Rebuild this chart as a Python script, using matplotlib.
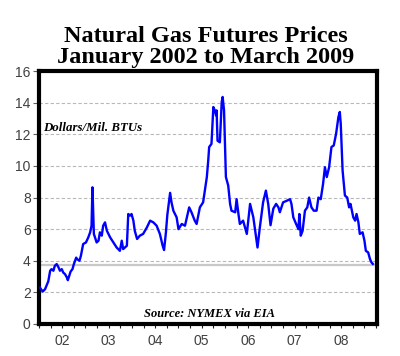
import numpy as np
import matplotlib
matplotlib.use("Agg")
import matplotlib.pyplot as plt
from matplotlib.ticker import FixedLocator

# Weekly-ish natural gas futures prices (decimal year, $/MMBtu)
years = [
    2002.02, 2002.08, 2002.13, 2002.20, 2002.24, 2002.27, 2002.31, 2002.34, 2002.38, 2002.42,
    2002.45, 2002.49, 2002.52, 2002.56, 2002.60, 2002.62, 2002.65, 2002.68, 2002.72, 2002.75,
    2002.80, 2002.82, 2002.87, 2002.90, 2002.95, 2003.01, 2003.06, 2003.10, 2003.13, 2003.15,
    2003.18, 2003.24, 2003.28, 2003.31, 2003.35, 2003.38, 2003.42, 2003.46, 2003.53, 2003.60,
    2003.67, 2003.74, 2003.78, 2003.81, 2003.89, 2003.92, 2003.96, 2003.99, 2004.03, 2004.06,
    2004.11, 2004.17, 2004.24, 2004.32, 2004.39, 2004.46, 2004.53, 2004.60, 2004.66, 2004.69,
    2004.73, 2004.76, 2004.82, 2004.85, 2004.89, 2004.96, 2005.00, 2005.07, 2005.14, 2005.23,
    2005.28, 2005.35, 2005.39, 2005.46, 2005.53, 2005.61, 2005.64, 2005.66, 2005.71, 2005.75,
    2005.78, 2005.81, 2005.82, 2005.84, 2005.89, 2005.93, 2005.95, 2005.98, 2006.02, 2006.07,
    2006.11, 2006.14, 2006.22, 2006.25, 2006.29, 2006.32, 2006.39, 2006.47, 2006.54, 2006.61,
    2006.68, 2006.70, 2006.75, 2006.82, 2006.88, 2006.93, 2006.98, 2007.04, 2007.10, 2007.15,
    2007.18, 2007.25, 2007.33, 2007.40, 2007.43, 2007.47, 2007.53, 2007.58, 2007.60, 2007.63,
    2007.67, 2007.72, 2007.77, 2007.81, 2007.86, 2007.91, 2007.97, 2008.01, 2008.06, 2008.11,
    2008.15, 2008.19, 2008.24, 2008.29, 2008.34, 2008.39, 2008.44, 2008.47, 2008.49, 2008.53,
    2008.58, 2008.63, 2008.67, 2008.70, 2008.76, 2008.80, 2008.83, 2008.87, 2008.90, 2008.96,
    2009.00, 2009.03, 2009.08, 2009.12, 2009.15, 2009.18,
]
prices = [
    2.30, 2.05, 2.20, 2.70, 3.37, 3.47, 3.37, 3.68, 3.79, 3.58,
    3.37, 3.47, 3.26, 3.15, 2.94, 2.77, 3.05, 3.32, 3.47, 3.79,
    4.20, 4.10, 4.00, 4.30, 5.06, 5.16, 5.48, 5.80, 6.22, 8.65,
    5.70, 5.16, 5.27, 5.80, 5.59, 6.22, 6.43, 5.90, 5.48, 5.16,
    4.84, 4.63, 5.27, 4.74, 4.95, 6.96, 6.86, 6.96, 6.54, 5.90,
    5.38, 5.59, 5.70, 6.11, 6.54, 6.43, 6.22, 5.70, 4.95, 4.68,
    5.80, 6.90, 8.30, 7.70, 7.17, 6.75, 6.00, 6.33, 6.22, 7.38,
    7.07, 6.54, 6.33, 7.38, 7.70, 9.30, 10.35, 11.20, 11.40, 13.73,
    13.52, 13.20, 13.52, 11.60, 11.50, 14.05, 14.37, 13.52, 9.30, 8.76,
    7.60, 7.17, 7.07, 7.90, 6.96, 6.33, 6.54, 5.70, 7.60, 6.75,
    5.27, 4.84, 6.11, 7.70, 8.44, 7.60, 6.25, 7.30, 7.60, 7.38,
    7.07, 7.70, 7.80, 7.90, 7.60, 6.75, 6.33, 6.00, 6.96, 5.59,
    5.90, 7.17, 7.38, 8.00, 7.38, 7.17, 7.17, 8.00, 7.90, 8.87,
    9.92, 9.30, 9.92, 11.20, 11.30, 12.04, 13.10, 13.42, 12.68, 9.71,
    8.13, 8.00, 7.38, 7.60, 6.75, 6.54, 6.96, 6.43, 5.70, 5.80,
    5.27, 4.63, 4.53, 4.10, 3.90, 3.80,
]
year_labels = ["02", "03", "04", "05", "06", "07", "08"]
y_ticks = [0, 2, 4, 6, 8, 10, 12, 14, 16]
grid_levels = [2, 4, 6, 8, 10, 12, 14]
latest_level = 3.75

fig = plt.figure(figsize=(4.0, 3.56), dpi=100)
ax = fig.add_axes([0.0975, 0.09, 0.845, 0.71])

for g in grid_levels:
    ax.axhline(g, color="#b8b8b8", lw=0.8, ls=(0, (3, 2)), zorder=1)
ax.axhline(latest_level, color="#c8c8c8", lw=1.6, zorder=1)

ax.plot(years, prices, color="#0000ff", lw=1.7, zorder=3)

ax.set_xlim(2002.0, 2009.27)
ax.set_ylim(0, 16)

# quarterly ticks with labels at mid-year, longer ticks at year boundaries
quarters = np.arange(2002.0, 2009.26, 0.25)
qlabels = []
for q in quarters:
    frac = round(q % 1, 2)
    yr = int(q)
    if frac == 0.5 and yr <= 2008:
        qlabels.append(year_labels[yr - 2002])
    else:
        qlabels.append("")
ax.set_xticks(quarters)
ax.set_xticklabels(qlabels)
ax.xaxis.set_minor_locator(FixedLocator(np.arange(2003, 2010)))
ax.tick_params(axis="x", which="major", length=3, width=0.8, color="#202020",
               labelsize=10, labelcolor="#404040", pad=4)
ax.tick_params(axis="x", which="minor", length=5, width=0.8, color="#202020")

ax.set_yticks(y_ticks)
ax.tick_params(axis="y", length=4, width=0.8, color="#606060",
               labelsize=10, labelcolor="#404040", pad=2)
for lbl in ax.get_xticklabels() + ax.get_yticklabels():
    lbl.set_family("Liberation Sans")

for side in ["left", "right", "top", "bottom"]:
    ax.spines[side].set_linewidth(3)
    ax.spines[side].set_color("black")

fig.text(0.515, 0.926, "Natural Gas Futures Prices\nJanuary 2002 to March 2009",
         ha="center", va="top", fontsize=17.5, fontweight="bold",
         family="Liberation Serif", linespacing=1.0)

ax.text(0.012, 0.775, "Dollars/Mil. BTUs", transform=ax.transAxes,
        fontsize=9.3, fontweight="bold", style="italic", family="Liberation Serif",
        ha="left", va="center")
ax.text(0.505, 0.04, "Source: NYMEX via EIA", transform=ax.transAxes,
        fontsize=9, fontweight="bold", style="italic", family="Liberation Serif",
        ha="center", va="center")

fig.savefig("out.png", dpi=100)
